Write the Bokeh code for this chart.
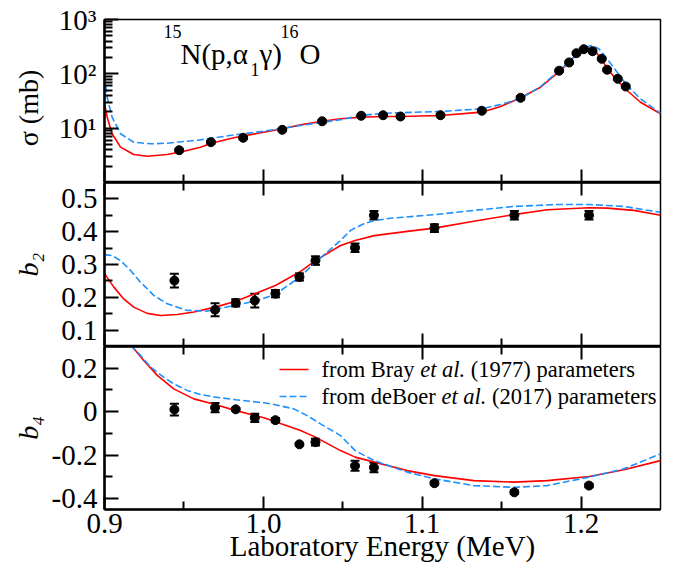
import math
from bokeh.plotting import figure
from bokeh.models import (Range1d, FixedTicker, LinearAxis, Label, Arrow, Whisker, TeeHead,
                          ColumnDataSource, CustomJSTickFormatter)
from bokeh.layouts import column
from bokeh.embed import file_html
from bokeh.resources import INLINE

FONT = "Liberation Serif"
RED = "#ff0000"
BLUE = "#1e90ff"

# ---------------- data ----------------
X_TICKS = [0.9, 1.0, 1.1, 1.2]
X_MINOR = [0.95, 1.05, 1.15]

# cross section (mb)
SIG_E = [0.947, 0.967, 0.9873, 1.0119, 1.037, 1.0616, 1.0754, 1.0863, 1.1115, 1.1375,
         1.1619, 1.1862, 1.1925, 1.1971, 1.2017, 1.2072, 1.2130, 1.2164, 1.2231, 1.2281]
SIG = [3.93, 5.52, 6.65, 9.33, 13.4, 16.9, 17.3, 16.4, 17.3, 20.9,
       36.2, 114, 162, 240, 284, 261, 189, 119, 81, 58.5]
SIG_ERR = [0.2, 0.3, 0.3, 0.4, 0.6, 0.7, 0.7, 0.7, 0.7, 0.9,
           2.5, 5, 7, 10, 12, 11, 8, 5, 3.5, 2.5]

SIG_BRAY_E = [0.9, 0.9017, 0.9048, 0.9101, 0.9184, 0.9269, 0.9395, 0.950, 0.9604, 0.9672,
              0.9814, 1.0003, 1.0119, 1.0234, 1.037, 1.0486, 1.0616, 1.0754, 1.0863, 1.1115,
              1.1375, 1.1493, 1.1619, 1.1745, 1.1862, 1.1925, 1.1976, 1.2005, 1.2035, 1.2055,
              1.208, 1.2105, 1.213, 1.2164, 1.2227, 1.229, 1.2374, 1.25]
SIG_BRAY = [28.4, 15.9, 7.9, 4.47, 3.27, 3.05, 3.27, 3.77, 4.47, 5.29,
            6.65, 8.43, 9.73, 11.5, 13.4, 14.9, 15.9, 16.4, 16.4, 17.1,
            19.7, 25, 36.2, 56.7, 110, 164, 240, 275, 294, 293,
            272, 228, 185, 126, 75.4, 49.3, 30, 18.4]

SIG_DEB_E = [0.9, 0.9017, 0.9048, 0.9101, 0.9184, 0.929, 0.9395, 0.9604, 0.9814, 1.0003,
             1.0234, 1.0486, 1.0616, 1.0754, 1.1115, 1.1375, 1.1493, 1.1619, 1.1745, 1.1862,
             1.1925, 1.1997, 1.2035, 1.207, 1.2112, 1.2164, 1.2227, 1.229, 1.2374, 1.25]
SIG_DEB = [93, 37, 15.9, 7.9, 5.5, 5.15, 5.29, 6.1, 7.5, 8.8,
           11.2, 14.3, 17.1, 18.8, 20.3, 22.7, 27.3, 34.7, 58.5, 115,
           164, 269, 315, 332, 289, 189, 107, 61, 34.7, 18.8]

# angular distribution coefficients
B_E = [0.944, 0.9696, 0.9826, 0.9946, 1.0076, 1.0227, 1.0328, 1.0577, 1.0696, 1.1077, 1.158, 1.205]
B2 = [0.251, 0.162, 0.183, 0.190, 0.211, 0.262, 0.312, 0.351, 0.450, 0.411, 0.450, 0.450]
B2_ERR = [0.021, 0.020, 0.011, 0.021, 0.011, 0.011, 0.013, 0.013, 0.013, 0.012, 0.013, 0.013]
B4 = [0.010, 0.019, 0.011, -0.028, -0.039, -0.150, -0.140, -0.249, -0.257, -0.329, -0.371, -0.340]
B4_ERR = [0.027, 0.021, 0.006, 0.019, 0.010, 0.005, 0.015, 0.023, 0.022, 0.008, 0.008, 0.008]

B2_BRAY_E = [0.9, 0.9059, 0.9121, 0.9184, 0.9269, 0.9353, 0.9458, 0.9562, 0.9697, 0.9827,
             0.9946, 1.0076, 1.0228, 1.0328, 1.0486, 1.0578, 1.0698, 1.0906, 1.1077, 1.1325,
             1.1577, 1.1787, 1.2051, 1.2164, 1.2332, 1.25]
B2_BRAY = [0.272, 0.231, 0.195, 0.170, 0.151, 0.1445, 0.1476, 0.155, 0.170, 0.188,
           0.211, 0.236, 0.277, 0.312, 0.358, 0.373, 0.388, 0.401, 0.411, 0.432,
           0.452, 0.467, 0.473, 0.472, 0.465, 0.450]

B2_DEB_E = [0.9, 0.9048, 0.9101, 0.9164, 0.9227, 0.931, 0.9395, 0.952, 0.9647, 0.9814,
            0.9946, 1.0076, 1.0228, 1.0328, 1.0486, 1.0549, 1.0632, 1.0698, 1.08, 1.1077,
            1.1325, 1.1579, 1.185, 1.2051, 1.2269, 1.25]
B2_DEB = [0.330, 0.327, 0.312, 0.282, 0.246, 0.206, 0.180, 0.160, 0.158, 0.175,
          0.188, 0.209, 0.261, 0.307, 0.373, 0.404, 0.424, 0.434, 0.441, 0.452,
          0.465, 0.477, 0.483, 0.483, 0.477, 0.459]

B4_BRAY_E = [0.9168, 0.9247, 0.9332, 0.9436, 0.9562, 0.9697, 0.9827, 1.0003, 1.0234, 1.0328,
             1.0486, 1.0578, 1.0698, 1.0906, 1.1077, 1.1325, 1.1579, 1.1787, 1.2051, 1.2269, 1.25]
B4_BRAY = [0.305, 0.236, 0.167, 0.105, 0.059, 0.033, 0.005, -0.028, -0.087, -0.117,
           -0.179, -0.209, -0.232, -0.271, -0.294, -0.317, -0.324, -0.317, -0.298, -0.267, -0.225]

B4_DEB_E = [0.9165, 0.9227, 0.929, 0.9373, 0.9436, 0.952, 0.9604, 0.9697, 0.9827, 1.0003,
            1.0076, 1.0192, 1.0276, 1.036, 1.0486, 1.0578, 1.0698, 1.0906, 1.1077, 1.1325,
            1.1579, 1.1787, 1.2051, 1.2269, 1.25]
B4_DEB = [0.305, 0.259, 0.205, 0.159, 0.128, 0.098, 0.079, 0.067, 0.055, 0.041,
          0.032, 0.013, -0.018, -0.056, -0.110, -0.179, -0.225, -0.278, -0.309, -0.340,
          -0.348, -0.340, -0.301, -0.263, -0.194]

LEGEND_BRAY = ["from Bray", "et al.", "(1977) parameters"]
LEGEND_DEB = ["from deBoer", "et al.", "(2017) parameters"]
X_TITLE = "Laboratory Energy (MeV)"
Y_TITLES = ["σ (mb)\u00a0\u00a0", "b₂", "b₄"]

LEFT = 104


# ---------------- helpers ----------------
def base_fig(frame_h, y_range, y_type, top, bottom):
    p = figure(frame_width=556, frame_height=frame_h, x_range=Range1d(0.9, 1.25),
               y_range=y_range, y_axis_type=y_type, output_backend="svg",
               toolbar_location=None, min_border_left=LEFT, min_border_right=8,
               min_border_top=top, min_border_bottom=bottom)
    p.grid.visible = False
    p.outline_line_color = "black"
    p.outline_line_width = 1.5
    p.background_fill_color = "white"
    p.border_fill_color = "white"
    return p


def style_axis(ax, ticks, minor, major_in, show_labels, formatter=None, standoff=7):
    ax.ticker = FixedTicker(ticks=ticks, minor_ticks=minor)
    ax.axis_line_width = 2.5
    ax.axis_line_color = "black"
    ax.major_tick_in = major_in
    ax.major_tick_out = 0
    ax.minor_tick_in = 8
    ax.minor_tick_out = 0
    ax.major_tick_line_width = 2
    ax.minor_tick_line_width = 2
    ax.major_tick_line_color = "black"
    ax.minor_tick_line_color = "black"
    ax.axis_label = None
    if show_labels:
        if formatter is not None:
            ax.formatter = formatter
        ax.major_label_text_font = FONT
        ax.major_label_text_font_size = "29px"
        ax.major_label_text_font_style = "normal"
        ax.major_label_text_color = "black"
        ax.major_label_standoff = standoff
    else:
        ax.major_label_text_font_size = "0px"
        ax.major_label_text_color = None
        ax.major_label_standoff = 0


def set_title(ax, text, size, style, standoff):
    ax.axis_label = text
    ax.axis_label_text_font = FONT
    ax.axis_label_text_font_size = f"{size}px"
    ax.axis_label_text_font_style = style
    ax.axis_label_text_color = "black"
    ax.axis_label_standoff = standoff


def lab(p, text, x, y, size, style="normal", angle=0.0, align="left"):
    p.add_layout(Label(x=x, y=y, x_units="screen", y_units="screen", text=text,
                       text_font=FONT, text_font_size=f"{size}px", text_font_style=style,
                       angle=angle, text_align=align, text_baseline="alphabetic",
                       text_color="black"))


def add_curves(p, xb, yb, xd, yd):
    p.line(xb, yb, line_color=RED, line_width=1.6)
    p.line(xd, yd, line_color=BLUE, line_width=1.6, line_dash="7 3")


def add_points(p, x, y, err):
    src = ColumnDataSource(dict(x=x, y=y, lo=[a - b for a, b in zip(y, err)],
                                hi=[a + b for a, b in zip(y, err)]))
    p.add_layout(Whisker(source=src, base="x", upper="hi", lower="lo", dimension="height",
                         line_width=2, line_color="black",
                         upper_head=TeeHead(size=9, line_width=2, line_color="black"),
                         lower_head=TeeHead(size=9, line_width=2, line_color="black")))
    p.scatter("x", "y", source=src, size=9, color="black")


fmt1 = CustomJSTickFormatter(code="return tick.toFixed(1);")
fmt_b4 = CustomJSTickFormatter(code="return Math.abs(tick) < 1e-9 ? '0' : tick.toFixed(1);")
fmt_log = CustomJSTickFormatter(code="""
const sup = {1: '\\u00b9', 2: '\\u00b2', 3: '\\u00b3'};
const e = Math.round(Math.log10(tick));
return '10' + sup[e];
""")

# ---------------- panel 1: cross section ----------------
p1 = base_fig(163, Range1d(1, 1000), "log", 19, 0)
style_axis(p1.yaxis[0], [10, 100, 1000],
           [2, 3, 4, 5, 6, 7, 8, 9, 20, 30, 40, 50, 60, 70, 80, 90,
            200, 300, 400, 500, 600, 700, 800, 900], 14, True, fmt_log, 8)
set_title(p1.yaxis[0], Y_TITLES[0], 28, "normal", 12)
style_axis(p1.xaxis[0], X_TICKS, X_MINOR, 13, False)
add_curves(p1, SIG_BRAY_E, SIG_BRAY, SIG_DEB_E, SIG_DEB)
add_points(p1, SIG_E, SIG, SIG_ERR)
lab(p1, "15", 59, 151, 18)
lab(p1, "N(p,α", 76, 129, 29)
lab(p1, "1", 146, 113, 18)
lab(p1, "γ)", 155, 129, 29)
lab(p1, "16", 176, 151, 18)
lab(p1, "O", 195, 129, 29)

# ---------------- panel 2: b2 ----------------
p2 = base_fig(164, Range1d(0.05, 0.55), "linear", 0, 0)
style_axis(p2.yaxis[0], [0.1, 0.2, 0.3, 0.4, 0.5], [0.15, 0.25, 0.35, 0.45], 14, True, fmt1, 7)
set_title(p2.yaxis[0], Y_TITLES[1], 28, "italic", 14)
style_axis(p2.xaxis[0], X_TICKS, X_MINOR, 13, False)
top2 = LinearAxis()
style_axis(top2, X_TICKS, X_MINOR, 13, False)
p2.add_layout(top2, "above")
add_curves(p2, B2_BRAY_E, B2_BRAY, B2_DEB_E, B2_DEB)
add_points(p2, B_E, B2, B2_ERR)

# ---------------- panel 3: b4 ----------------
p3 = base_fig(163, Range1d(-0.45, 0.3), "linear", 0, 50)
style_axis(p3.yaxis[0], [-0.4, -0.2, 0, 0.2], [-0.3, -0.1, 0.1], 14, True, fmt_b4, 7)
set_title(p3.yaxis[0], Y_TITLES[2], 28, "italic", 5)
style_axis(p3.xaxis[0], X_TICKS, X_MINOR, 13, True, fmt1, 4)
set_title(p3.xaxis[0], X_TITLE, 29, "normal", -6)
top3 = LinearAxis()
style_axis(top3, X_TICKS, X_MINOR, 13, False)
p3.add_layout(top3, "above")
add_curves(p3, B4_BRAY_E, B4_BRAY, B4_DEB_E, B4_DEB)
add_points(p3, B_E, B4, B4_ERR)

# legend
p3.add_layout(Arrow(end=None, x_start=175, y_start=140, x_end=204, y_end=140,
                    start_units="screen", end_units="screen", line_color=RED, line_width=1.6))
p3.add_layout(Arrow(end=None, x_start=175, y_start=113, x_end=204, y_end=113,
                    start_units="screen", end_units="screen", line_color=BLUE, line_width=1.6,
                    line_dash="7 3"))
lab(p3, LEGEND_BRAY[0], 217, 140, 22.5)
lab(p3, LEGEND_BRAY[1], 315.7, 140, 22.5, style="italic")
lab(p3, LEGEND_BRAY[2], 366.3, 140, 22.5)
lab(p3, LEGEND_DEB[0], 217, 113, 22.5)
lab(p3, LEGEND_DEB[1], 337, 113, 22.5, style="italic")
lab(p3, LEGEND_DEB[2], 387.6, 113, 22.5)

layout = column(p1, p2, p3, spacing=0)
open("out.html", "w").write(file_html(layout, INLINE))
